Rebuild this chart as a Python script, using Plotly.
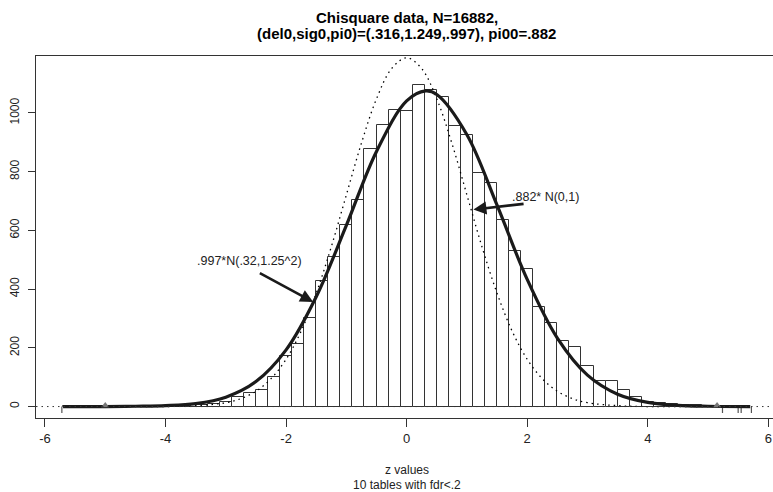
import plotly.graph_objects as go

# ---- data ----
bin_centers = [round(-5.6 + 0.2 * i, 1) for i in range(57)]
counts = [1, 0, 1, 1, 0, 1, 1, 1, 2, 2, 4,      # -5.6 .. -3.6
          5, 9, 17, 32, 46, 57, 99, 173, 213, 303, 428, 511,   # -3.4 .. -1.2
          620, 705, 876, 960, 1011, 1006, 1095, 1077, 1054, 956,  # -1.0 .. 0.8
          925, 797, 762, 637, 529, 470, 339, 284, 224, 204,     # 1.0 .. 2.8
          139, 87, 87, 55, 32, 15, 11, 7, 5, 4, 3, 2, 2, 1]      # 3.0 .. 5.6

fit_x = [-5.7, -5.0, -4.5, -4.0, -3.5, -3.0, -2.5, -2.0, -1.5, -1.0, -0.5, 0.0,
         0.316, 0.5, 1.0, 1.5, 2.0, 2.5, 3.0, 3.5, 4.0, 4.5, 5.0, 5.7]
fit_y = [0, 0, 1, 3, 10, 32, 85, 193, 374, 617, 869, 1041,
         1075, 1063, 926, 686, 433, 233, 107, 42, 14, 4, 1, 0]

null_x = [-5.7, -4.0, -3.5, -3.0, -2.75, -2.5, -2.25, -2.0, -1.75, -1.5, -1.25, -1.0,
          -0.75, -0.5, -0.25, 0.0, 0.25, 0.5, 0.75, 1.0, 1.25, 1.5, 1.75, 2.0,
          2.25, 2.5, 2.75, 3.0, 3.5, 4.0, 5.7]
null_y = [0, 0, 3, 13, 27, 52, 95, 161, 257, 386, 544, 721,
          897, 1048, 1151, 1188, 1151, 1048, 897, 721, 544, 386, 257, 161,
          95, 52, 27, 13, 3, 0, 0]

tri_x = [-5.0, 5.15]
rug_x = [-5.72, 5.24, 5.50, 5.55, 5.72]

x_ticks = [-6, -4, -2, 0, 2, 4, 6]
y_ticks = [0, 200, 400, 600, 800, 1000]

title_1 = "Chisquare data, N=16882,"
title_2 = "(del0,sig0,pi0)=(.316,1.249,.997), pi00=.882"
fit_label = ".997*N(.32,1.25^2)"
null_label = ".882* N(0,1)"
x_title = "z values"
x_sub = "10 tables with fdr<.2"

# ---- figure ----
FONT = "Liberation Sans, Arial, sans-serif"
INK = "#333333"

fig = go.Figure()
fig.add_trace(go.Bar(x=bin_centers, y=counts, width=0.2,
                     marker=dict(color="white", line=dict(color=INK, width=1)),
                     hoverinfo="skip"))

# rug-like marks below the baseline
rx, ry = [], []
for v in rug_x:
    rx += [v, v, None]
    ry += [0, -22, None]
fig.add_trace(go.Scatter(x=rx, y=ry, mode="lines", line=dict(color="#555555", width=1.2)))

fig.add_trace(go.Scatter(x=null_x, y=null_y, mode="lines",
                         line=dict(color="black", width=1.3, dash="1.5px,4px", shape="spline", smoothing=1.0)))
fig.add_trace(go.Scatter(x=fit_x, y=fit_y, mode="lines",
                         line=dict(color="#1a1a1a", width=3.2, shape="spline", smoothing=1.0)))
fig.add_trace(go.Scatter(x=tri_x, y=[4] * len(tri_x), mode="markers",
                         marker=dict(symbol="triangle-up", size=7, color="#777777")))

# dotted zero line
fig.add_shape(type="line", xref="paper", x0=0, x1=1, yref="y", y0=0, y1=0,
              line=dict(color=INK, width=1, dash="1.5px,4px"), layer="above")

# arrows and labels
fig.add_annotation(x=-2.60, y=495, text=fit_label, showarrow=False,
                   font=dict(family=FONT, size=12.5, color="#222"))
fig.add_annotation(x=-1.55, y=356, ax=-2.46, ay=457, axref="x", ayref="y", text="",
                   showarrow=True, arrowhead=2, arrowsize=1, arrowwidth=2.6, arrowcolor="#1a1a1a")
fig.add_annotation(x=2.30, y=714, text=null_label, showarrow=False,
                   font=dict(family=FONT, size=12.5, color="#222"))
fig.add_annotation(x=1.108, y=671, ax=1.965, ay=691, axref="x", ayref="y", text="",
                   showarrow=True, arrowhead=2, arrowsize=1, arrowwidth=2.6, arrowcolor="#1a1a1a")

# titles
fig.add_annotation(x=0, xref="x", y=1.1077, yref="paper", text="<b>" + title_1 + "</b>",
                   showarrow=False, yanchor="middle", font=dict(family=FONT, size=15, color="black"))
fig.add_annotation(x=0, xref="x", y=1.0608, yref="paper", text="<b>" + title_2 + "</b>",
                   showarrow=False, yanchor="middle", font=dict(family=FONT, size=15, color="black"))
fig.add_annotation(x=0, xref="x", y=-0.1436, yref="paper", text=x_title,
                   showarrow=False, yanchor="middle", font=dict(family=FONT, size=12, color="#222"))
fig.add_annotation(x=0, xref="x", y=-0.185, yref="paper", text=x_sub,
                   showarrow=False, yanchor="middle", font=dict(family=FONT, size=12, color="#222"))

fig.update_layout(
    width=773, height=492,
    margin=dict(l=36, r=0, t=56, b=74),
    paper_bgcolor="white", plot_bgcolor="white",
    showlegend=False, bargap=0,
    font=dict(family=FONT, size=12, color="#222"),
)
fig.update_xaxes(range=[-6.149, 6.078], tickvals=x_ticks, ticktext=[str(v) for v in x_ticks],
                 ticks="outside", ticklen=8, tickcolor=INK, showline=True, linecolor=INK,
                 linewidth=1, mirror=True, showgrid=False, zeroline=False,
                 tickfont=dict(family=FONT, size=13, color="#222"))
fig.update_yaxes(range=[-39, 1194], tickvals=y_ticks, ticktext=[str(v) for v in y_ticks],
                 ticks="outside", ticklen=7, tickcolor=INK, showline=True, linecolor=INK,
                 linewidth=1, showgrid=False, zeroline=False, tickangle=-90,
                 ticklabelstandoff=4,
                 tickfont=dict(family=FONT, size=12, color="#222"))

fig.write_html("out.html")
